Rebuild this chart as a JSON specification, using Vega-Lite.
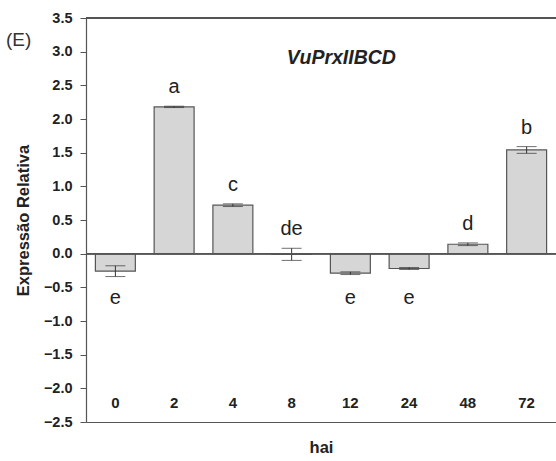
{
  "$schema": "https://vega.github.io/schema/vega-lite/v6.json",
  "autosize": {"type": "none"},
  "width": 470,
  "height": 404,
  "padding": {"left": 86, "top": 18, "right": 0, "bottom": 39},
  "background": "white",
  "title": {
    "text": "(E)",
    "anchor": "start",
    "frame": "group",
    "dx": -80,
    "dy": 40,
    "offset": 0,
    "baseline": "top",
    "font": "Liberation Sans",
    "fontSize": 19,
    "fontWeight": "normal",
    "color": "#333333"
  },
  "config": {
    "view": {"stroke": null},
    "font": "Liberation Sans",
    "axisY": {
      "labelOverlap": false,
      "tickCount": 20,
      "grid": false,
      "domainColor": "#555555",
      "domainWidth": 1.2,
      "tickColor": "#555555",
      "tickSize": 6,
      "labelPadding": 8,
      "labelFontSize": 14.5,
      "labelFontWeight": "bold",
      "labelColor": "#222222",
      "titleFontSize": 16.5,
      "titleFontWeight": "bold",
      "titleColor": "#222222",
      "titlePadding": 12
    }
  },
  "data": {
    "values": [
      {"hai": "0", "value": -0.26, "err": 0.08, "letter": "e"},
      {"hai": "2", "value": 2.18, "err": 0.01, "letter": "a"},
      {"hai": "4", "value": 0.72, "err": 0.02, "letter": "c"},
      {"hai": "8", "value": -0.01, "err": 0.09, "letter": "de"},
      {"hai": "12", "value": -0.29, "err": 0.02, "letter": "e"},
      {"hai": "24", "value": -0.22, "err": 0.015, "letter": "e"},
      {"hai": "48", "value": 0.14, "err": 0.02, "letter": "d"},
      {"hai": "72", "value": 1.54, "err": 0.05, "letter": "b"}
    ]
  },
  "layer": [
    {
      "mark": {"type": "bar", "fill": "#d6d6d6", "stroke": "#555555", "strokeWidth": 1.2},
      "encoding": {
        "x": {
          "field": "hai",
          "type": "nominal",
          "sort": null,
          "scale": {"paddingInner": 0.32, "paddingOuter": 0.16},
          "axis": {
            "title": "hai",
            "labelAngle": 0,
            "ticks": false,
            "domainColor": "#555555",
            "domainWidth": 1.2,
            "labelPadding": -27,
            "labelFontSize": 15,
            "labelFontWeight": "bold",
            "labelColor": "#222222",
            "titleFontSize": 16.5,
            "titleFontWeight": "bold",
            "titleColor": "#222222",
            "titlePadding": 17
          }
        },
        "y": {
          "field": "value",
          "type": "quantitative",
          "title": "Expressão Relativa",
          "scale": {"domain": [-2.5, 3.5], "nice": false, "zero": false},
          "axis": {
            "values": [-2.5, -2, -1.5, -1, -0.5, 0, 0.5, 1, 1.5, 2, 2.5, 3, 3.5],
            "tickCount": 20,
            "format": ".1f",
            "labelOverlap": false
          }
        }
      }
    },
    {
      "mark": {"type": "errorbar", "ticks": {"size": 20, "color": "#333333"}, "color": "#333333", "thickness": 1},
      "encoding": {
        "x": {"field": "hai", "type": "nominal", "sort": null},
        "y": {"field": "value", "type": "quantitative", "title": "Expressão Relativa"},
        "yError": {"field": "err"}
      }
    },
    {
      "mark": {"type": "rule", "color": "#555555", "strokeWidth": 1.2},
      "encoding": {"y": {"datum": 0}}
    },
    {
      "mark": {"type": "rule", "color": "#555555", "strokeWidth": 1.2},
      "encoding": {"y": {"datum": 3.5}}
    },
    {
      "transform": [
        {"calculate": "datum.value + datum.err > 0 ? datum.value + datum.err + 0.19 : -0.75", "as": "ly"}
      ],
      "mark": {"type": "text", "baseline": "alphabetic", "fontSize": 20, "color": "#222222", "font": "Liberation Sans"},
      "encoding": {
        "x": {"field": "hai", "type": "nominal", "sort": null},
        "y": {"field": "ly", "type": "quantitative", "title": "Expressão Relativa"},
        "text": {"field": "letter"}
      }
    },
    {
      "data": {"values": [{"hai": "12", "name": "VuPrxIIBCD"}]},
      "mark": {"type": "text", "fontSize": 19.5, "fontWeight": "bold", "fontStyle": "italic", "color": "#222222", "dx": -9, "baseline": "middle", "font": "Liberation Sans"},
      "encoding": {
        "x": {"field": "hai", "type": "nominal", "sort": null},
        "y": {"datum": 2.91},
        "text": {"field": "name"}
      }
    }
  ]
}
